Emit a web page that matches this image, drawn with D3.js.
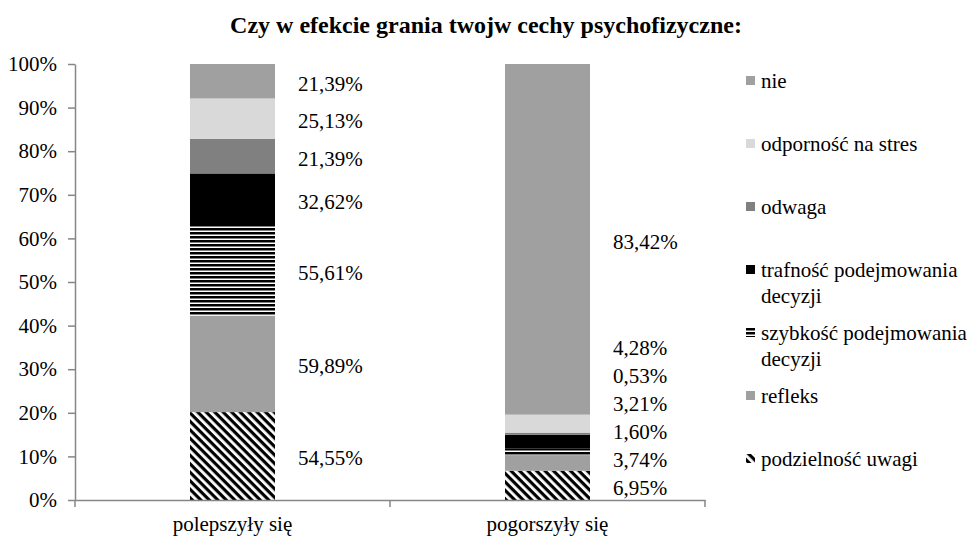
<!DOCTYPE html>
<html>
<head>
<meta charset="utf-8">
<script src="https://cdn.jsdelivr.net/npm/d3@7"></script>
<style>
  body { margin: 0; background: #fff; }
  text { font-family: "Liberation Serif", "Times New Roman", serif; fill: #000; }
</style>
</head>
<body>
<div id="chart"></div>
<script>
// Data
var categories = ["polepszyły się", "pogorszyły się"];
var seriesNames = ["podzielność uwagi", "refleks", "szybkość podejmowania decyzji",
                   "trafność podejmowania decyzji", "odwaga", "odporność na stres", "nie"];
var legendLines = [["podzielność uwagi"], ["refleks"], ["szybkość podejmowania", "decyzji"],
                   ["trafność podejmowania", "decyzji"], ["odwaga"], ["odporność na stres"], ["nie"]];
var polepszyly = [54.55, 59.89, 55.61, 32.62, 21.39, 25.13, 21.39];
var pogorszyly = [6.95, 3.74, 1.60, 3.21, 0.53, 4.28, 83.42];
var yTicks = [0, 0.1, 0.2, 0.3, 0.4, 0.5, 0.6, 0.7, 0.8, 0.9, 1];

var W = 971, H = 538;
var plot = {left: 75, right: 705, top: 64, bottom: 500};
var serif = "'Liberation Serif', 'Times New Roman', serif";

var svg = d3.select("#chart").append("svg")
    .attr("width", W)
    .attr("height", H);

// Patterns
var defs = svg.append("defs");
var diag = defs.append("pattern")
    .attr("id", "diag")
    .attr("patternUnits", "userSpaceOnUse")
    .attr("width", 6).attr("height", 6)
    .attr("patternTransform", "rotate(45)");
diag.append("rect").attr("width", 6).attr("height", 6).attr("fill", "#fff");
diag.append("rect").attr("width", 6).attr("height", 3.2).attr("fill", "#000");

var horiz = defs.append("pattern")
    .attr("id", "horiz")
    .attr("patternUnits", "userSpaceOnUse")
    .attr("width", 8).attr("height", 4);
horiz.append("rect").attr("width", 8).attr("height", 4).attr("fill", "#fff");
horiz.append("rect").attr("width", 8).attr("height", 2.5).attr("fill", "#000");

var fills = ["url(#diag)", "#a0a0a0", "url(#horiz)", "#000000", "#808080", "#d9d9d9", "#a0a0a0"];

// Build rows for the stack
var rows = categories.map(function (c, i) {
    var vals = i === 0 ? polepszyly : pogorszyly;
    var r = {cat: c};
    seriesNames.forEach(function (s, j) { r[s] = vals[j]; });
    return r;
});

var stack = d3.stack().keys(seriesNames).offset(d3.stackOffsetExpand);
var series = stack(rows);

var x = d3.scaleBand().domain(categories).range([plot.left, plot.right]);
var y = d3.scaleLinear().domain([0, 1]).range([plot.bottom, plot.top]);
var barW = 85;
var barX = function (c) { return x(c) + (x.bandwidth() - barW) / 2; };

// Title
svg.append("text")
    .attr("x", 486).attr("y", 33)
    .attr("text-anchor", "middle")
    .style("font-size", "24px")
    .style("font-weight", "bold")
    .text("Czy w efekcie grania twojw cechy psychofizyczne:");

// Bars
svg.selectAll("g.layer")
    .data(series)
    .enter().append("g")
    .attr("class", "layer")
    .attr("fill", function (d, i) { return fills[i]; })
    .selectAll("rect")
    .data(function (d) { return d; })
    .enter().append("rect")
    .attr("x", function (d) { return barX(d.data.cat); })
    .attr("width", barW)
    .attr("y", function (d) { return y(d[1]); })
    .attr("height", function (d) { return y(d[0]) - y(d[1]); });

// Y axis
var yAxis = svg.append("g")
    .attr("transform", "translate(" + plot.left + ",0)")
    .call(d3.axisLeft(y).tickValues(yTicks).tickSize(7).tickSizeOuter(0)
        .tickFormat(function (d) { return Math.round(d * 100) + "%"; }));
yAxis.select(".domain").attr("stroke", "#868686").attr("stroke-width", 1.5);
yAxis.selectAll(".tick line").attr("stroke", "#868686").attr("stroke-width", 1.5);
yAxis.selectAll(".tick text")
    .attr("x", -18)
    .style("font-size", "21px")
    .style("font-family", serif);

// X axis
var xAxis = svg.append("g")
    .attr("transform", "translate(0," + plot.bottom + ")")
    .call(d3.axisBottom(x).tickSize(0).tickSizeOuter(0));
xAxis.select(".domain").attr("stroke", "#868686").attr("stroke-width", 1.5);
xAxis.selectAll(".tick text")
    .attr("y", 31)
    .attr("dy", null)
    .style("font-size", "21px")
    .style("font-family", serif);
var bounds = categories.map(function (c) { return x(c); }).concat([x(categories[1]) + x.bandwidth()]);
xAxis.selectAll("line.bound")
    .data(bounds)
    .enter().append("line")
    .attr("class", "bound")
    .attr("x1", function (d) { return d; }).attr("x2", function (d) { return d; })
    .attr("y1", 0).attr("y2", 7)
    .attr("stroke", "#868686").attr("stroke-width", 1.5);

// Data labels, pushed upward where they would overlap
var minGap = 28;
categories.forEach(function (c, ci) {
    var vals = ci === 0 ? polepszyly : pogorszyly;
    var prev = Infinity;
    series.forEach(function (s, si) {
        var d = s[ci];
        var cy = Math.min(y((d[0] + d[1]) / 2) + 2, prev - minGap);
        prev = cy;
        svg.append("text")
            .attr("x", barX(c) + barW + 23)
            .attr("y", cy)
            .attr("dy", "0.35em")
            .style("font-size", "21px")
            .style("font-family", serif)
            .text(vals[si].toFixed(2).replace(".", ",") + "%");
    });
});

// Legend (top to bottom: last series first)
var legend = svg.append("g");
var order = d3.range(seriesNames.length).reverse();
order.forEach(function (si, k) {
    var ly = 81 + k * 63;
    legend.append("rect")
        .attr("x", 746).attr("y", ly - 5)
        .attr("width", 9).attr("height", 9)
        .attr("fill", fills[si]);
    var t = legend.append("text")
        .attr("x", 761).attr("y", ly)
        .style("font-size", "21px")
        .style("font-family", serif);
    legendLines[si].forEach(function (line, li) {
        t.append("tspan").attr("x", 761).attr("dy", li === 0 ? "0.35em" : "1.2em").text(line);
    });
});
</script>
</body>
</html>
